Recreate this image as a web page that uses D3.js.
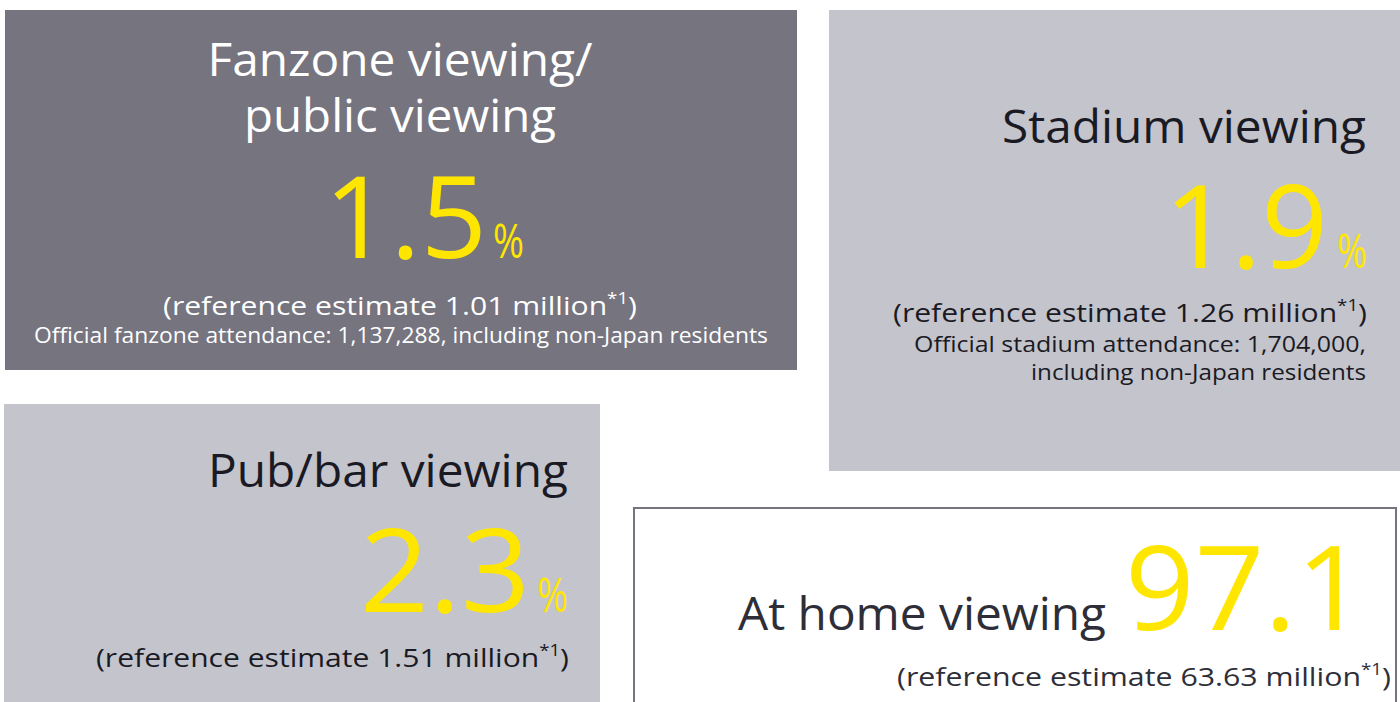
<!DOCTYPE html>
<html><head><meta charset="utf-8">
<script src="https://cdn.jsdelivr.net/npm/d3@7"></script>
<style>html,body{margin:0;padding:0;background:#fff;overflow:hidden}</style>
</head><body><svg id="chart" width="1400" height="702"></svg>
<script>
// ---- data ----
const categories = ["Fanzone viewing/\npublic viewing", "Stadium viewing", "Pub/bar viewing", "At home viewing"];
const shares = [1.5, 1.9, 2.3, 97.1];
const estimatesMillion = [1.01, 1.26, 1.51, 63.63];
const attendanceNotes = [
  "Official fanzone attendance: 1,137,288, including non-Japan residents",
  "Official stadium attendance: 1,704,000,\nincluding non-Japan residents",
  "",
  ""
];
const showPercent = [true, true, true, false];
const footnoteMark = "*1";

// ---- layout (positions / sizes / styles) ----
const layout = [
  { rect: [5, 10, 792, 360], fill: "#75747f", stroke: null, ink: "#ffffff",
    title: { x: 400, anchor: "middle", ys: [76, 132], widths: [385, 312], size: 45 },
    num: { x: 487, y: 258, w: 163, size: 113 }, pct: { x: 493, w: 31, size: 48 },
    est: { x: 400, anchor: "middle", y: 315, w: 474, size: 25 },
    note: { x: 401, anchor: "middle", ys: [343], widths: [734], size: 22 } },
  { rect: [829, 10, 571, 461], fill: "#c4c4cc", stroke: null, ink: "#1a1a24",
    title: { x: 1366, anchor: "end", ys: [143], widths: [364], size: 45 },
    num: { x: 1328, y: 268, w: 164, size: 116 }, pct: { x: 1337, w: 30, size: 48 },
    est: { x: 1367, anchor: "end", y: 322, w: 474, size: 25 },
    note: { x: 1366, anchor: "end", ys: [352, 380], widths: [452, 335], size: 22 } },
  { rect: [4, 404, 596, 298], fill: "#c4c4cc", stroke: null, ink: "#1a1a24",
    title: { x: 568, anchor: "end", ys: [487], widths: [360], size: 45 },
    num: { x: 530, y: 612, w: 170, size: 116 }, pct: { x: 537, w: 31, size: 48 },
    est: { x: 569, anchor: "end", y: 667, w: 473, size: 25 },
    note: null },
  { rect: [634, 508, 762, 210], fill: "#ffffff", stroke: "#75747f", ink: "#2e2e38",
    title: { x: 1106, anchor: "end", ys: [630], widths: [368], size: 46 },
    num: { x: 1366, y: 630, w: 241, size: 117 }, pct: null,
    est: { x: 1391, anchor: "end", y: 686, w: 494, size: 25 },
    note: null }
];

const YELLOW = "#ffe600";
const FONT = "'Open Sans', 'Noto Sans', sans-serif";
const fmtShare = d3.format(".1f");
const fmtEst = d3.format(".2f");

const svg = d3.select("#chart");

const boxes = categories.map((c, i) => ({
  category: c, share: shares[i], est: estimatesMillion[i],
  note: attendanceNotes[i], pct: showPercent[i], L: layout[i]
}));

const g = svg.selectAll("g.box").data(boxes).join("g").attr("class", "box");

g.append("rect")
  .attr("x", d => d.L.rect[0]).attr("y", d => d.L.rect[1])
  .attr("width", d => d.L.rect[2]).attr("height", d => d.L.rect[3])
  .attr("fill", d => d.L.fill)
  .attr("stroke", d => d.L.stroke || "none")
  .attr("stroke-width", 2);

function fitText(sel, w) {
  sel.attr("textLength", w).attr("lengthAdjust", "spacingAndGlyphs");
}

g.each(function (d) {
  const gg = d3.select(this);
  const L = d.L;
  // title
  d.category.split("\n").forEach((line, k) => {
    gg.append("text")
      .attr("x", L.title.x).attr("y", L.title.ys[k])
      .attr("text-anchor", L.title.anchor)
      .attr("font-family", FONT).attr("font-size", L.title.size)
      .attr("fill", L.ink).text(line)
      .call(fitText, L.title.widths[k]);
  });
  // big number
  gg.append("text")
    .attr("x", L.num.x).attr("y", L.num.y)
    .attr("text-anchor", "end")
    .attr("font-family", FONT).attr("font-weight", 400).attr("font-size", L.num.size)
    .attr("fill", YELLOW).text(fmtShare(d.share))
    .call(fitText, L.num.w);
  if (d.pct && L.pct) {
    gg.append("text")
      .attr("x", L.pct.x).attr("y", L.num.y)
      .attr("font-family", FONT).attr("font-weight", 400).attr("font-size", L.pct.size)
      .attr("fill", YELLOW).text("%")
      .call(fitText, L.pct.w);
  }
  // estimate
  const et = gg.append("text")
    .attr("x", L.est.x).attr("y", L.est.y)
    .attr("text-anchor", L.est.anchor)
    .attr("font-family", FONT).attr("font-size", L.est.size)
    .attr("fill", L.ink);
  et.append("tspan").text(`(reference estimate ${fmtEst(d.est)} million`);
  et.append("tspan").attr("font-size", L.est.size * 0.62).attr("dy", -L.est.size * 0.45).text(footnoteMark);
  et.append("tspan").attr("dy", L.est.size * 0.45).text(")");
  et.call(fitText, L.est.w);
  // notes
  if (d.note && L.note) {
    d.note.split("\n").forEach((line, k) => {
      gg.append("text")
        .attr("x", L.note.x).attr("y", L.note.ys[k])
        .attr("text-anchor", L.note.anchor)
        .attr("font-family", FONT).attr("font-size", L.note.size)
        .attr("fill", L.ink).text(line)
        .call(fitText, L.note.widths[k]);
    });
  }
});
</script></body></html>
